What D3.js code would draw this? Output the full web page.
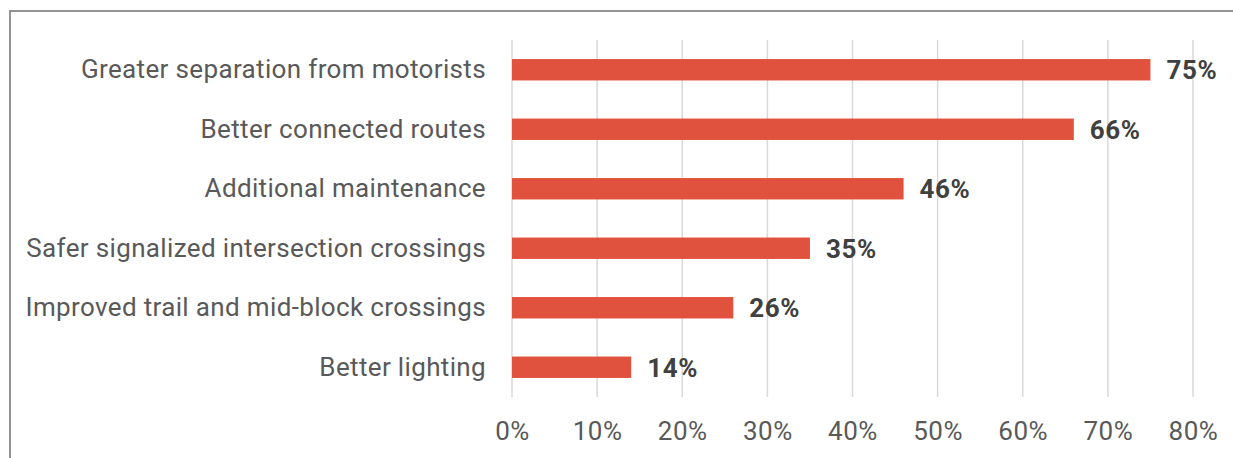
<!DOCTYPE html>
<html>
<head>
<meta charset="utf-8">
<script src="https://cdn.jsdelivr.net/npm/d3@7"></script>
<style>
  html, body { margin: 0; padding: 0; background: #fff; }
  svg { display: block; font-family: Roboto, "Noto Sans", sans-serif; }
</style>
</head>
<body>
<svg id="chart" width="1233" height="458"></svg>
<script>
// Survey responses: improvements respondents would like to see
const categories = [
  "Greater separation from motorists",
  "Better connected routes",
  "Additional maintenance",
  "Safer signalized intersection crossings",
  "Improved trail and mid-block crossings",
  "Better lighting"
];
const values = [75, 66, 46, 35, 26, 14];
const tickValues = [0, 10, 20, 30, 40, 50, 60, 70, 80];

const svg = d3.select("#chart");

// outer frame
svg.append("rect")
  .attr("x", 10).attr("y", 11)
  .attr("width", 1240).attr("height", 470)
  .attr("fill", "none")
  .attr("stroke", "#888")
  .attr("stroke-width", 1.8);

const x = d3.scaleLinear().domain([0, 80]).range([512, 1193]);
const y = d3.scaleBand().domain(categories).range([40, 397]).paddingInner(0.64).paddingOuter(0.32);

// vertical gridlines
svg.append("g")
  .selectAll("line")
  .data(tickValues)
  .join("line")
  .attr("x1", d => x(d)).attr("x2", d => x(d))
  .attr("y1", 40).attr("y2", 397)
  .attr("stroke", "#d9d9d9")
  .attr("stroke-width", 1.5);

// x axis tick labels
const xAxis = d3.axisBottom(x).tickValues(tickValues).tickSize(0).tickPadding(0).tickFormat(d => d + "%");
const gx = svg.append("g").attr("transform", "translate(0,421.5)").call(xAxis);
gx.select(".domain").remove();
gx.selectAll("text")
  .attr("dy", "0.71em")
  .attr("fill", "#595959")
  .style("font-size", "26px")
  .style("letter-spacing", "0.5px")
  .style("font-family", "Roboto, sans-serif");

// category labels
const yAxis = d3.axisLeft(y).tickSize(0).tickPadding(26);
const gy = svg.append("g").attr("transform", "translate(512,0)").call(yAxis);
gy.select(".domain").remove();
gy.selectAll("text")
  .attr("fill", "#595959")
  .style("font-size", "26px")
  .style("letter-spacing", "0.35px")
  .style("font-family", "Roboto, sans-serif");

// bars
svg.append("g")
  .selectAll("rect")
  .data(values)
  .join("rect")
  .attr("x", x(0))
  .attr("y", (d, i) => y(categories[i]))
  .attr("width", d => x(d) - x(0))
  .attr("height", y.bandwidth())
  .attr("fill", "#e0523d");

// value labels
svg.append("g")
  .selectAll("text")
  .data(values)
  .join("text")
  .attr("x", d => x(d) + 16)
  .attr("y", (d, i) => y(categories[i]) + y.bandwidth() / 2)
  .attr("dy", "0.36em")
  .attr("fill", "#404040")
  .style("font-size", "26px")
  .style("letter-spacing", "0.6px")
  .style("font-weight", "bold")
  .text(d => d + "%");
</script>
</body>
</html>
